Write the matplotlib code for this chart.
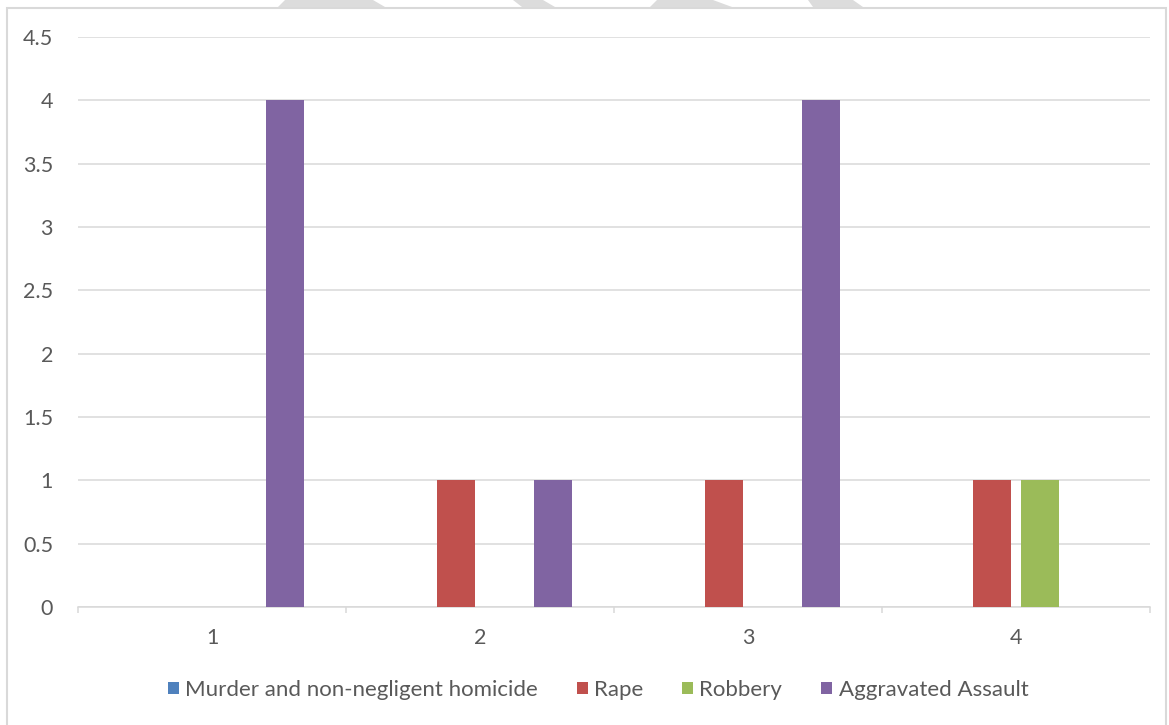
import numpy as np
import matplotlib.pyplot as plt
from matplotlib.patches import Rectangle, Polygon

plt.rcParams['font.family'] = ['Lato', 'DejaVu Sans']

kategorije = ['1', '2', '3', '4']
serije = ['Murder and non-negligent homicide', 'Rape', 'Robbery', 'Aggravated Assault']
ubojstva = [0, 0, 0, 0]
silovanja = [0, 1, 1, 1]
razbojnistva = [0, 0, 0, 1]
napadi = [4, 1, 4, 0]
boje = ['#4F81BD', '#C0504D', '#9BBB59', '#8064A2']
y_oznake = [0, 0.5, 1, 1.5, 2, 2.5, 3, 3.5, 4, 4.5]

siva = '#D9D9D9'
tekst = '#595959'

fig = plt.figure(figsize=(11.69, 7.25), dpi=100)
W, H = 1169, 725

# okvir grafa
fig.patches.append(Rectangle((7 / W, -0.02), 1159 / W, 1.02 - 8 / H, transform=fig.transFigure,
                             fill=False, edgecolor=siva, linewidth=1.5))
# sivi oblici uz gornji rub
for pts in [[(278, 7), (385, 7), (373, 0), (285, 0)],
            [(522, 7), (555, 7), (543, 0), (513, 0)],
            [(650, 7), (732, 7), (713, 0), (657, 0)],
            [(813, 7), (863, 7), (853, 0), (808, 0)]]:
    fig.patches.append(Polygon([(x / W, 1 - y / H) for x, y in pts], closed=True,
                               transform=fig.transFigure, facecolor='#DCDCDC', edgecolor='none'))

ax = fig.add_axes([78 / W, 1 - 607 / H, (1150 - 78) / W, (607 - 37) / H])

x = np.arange(len(kategorije))
razmak = 0.181
sirina = 0.142
podaci = [ubojstva, silovanja, razbojnistva, napadi]
for i, (ime, vrijednosti) in enumerate(zip(serije, podaci)):
    ax.bar(x + (i - 1.5) * razmak, vrijednosti, sirina, color=boje[i], label=ime, zorder=3)

ax.set_xlim(-0.5, 3.5)
ax.set_ylim(0, 4.5)
ax.set_yticks(y_oznake)
ax.set_yticklabels([f'{v:g}' for v in y_oznake])
ax.set_xticks(x)
ax.set_xticklabels(kategorije)
ax.set_xticks(np.arange(-0.5, 4.0, 1.0), minor=True)

ax.yaxis.grid(True, color=siva, linewidth=1.1, zorder=0)
ax.set_axisbelow(True)
for s in ['top', 'right', 'left']:
    ax.spines[s].set_visible(False)
ax.spines['bottom'].set_color(siva)
ax.spines['bottom'].set_linewidth(1.1)

ax.tick_params(axis='y', length=0, pad=18, labelsize=15.5, labelcolor=tekst)
ax.tick_params(axis='x', which='major', length=0, pad=15, labelsize=15.5, labelcolor=tekst)
ax.tick_params(axis='x', which='minor', length=4.5, width=1.1, color=siva)

ax.legend(loc='center', bbox_to_anchor=(598 / W, 1 - 690 / H), bbox_transform=fig.transFigure,
          ncol=4, frameon=False, fontsize=16, labelcolor=tekst,
          handlelength=0.5, handleheight=0.5, handletextpad=0.28, columnspacing=1.75)

fig.savefig('out.png', dpi=100)
